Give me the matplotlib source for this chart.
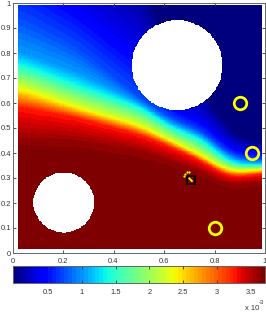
import numpy as np
import matplotlib
matplotlib.use("Agg")
import matplotlib.pyplot as plt

plt.rcParams['font.family'] = ['Liberation Sans', 'DejaVu Sans']

# ---- data ----
# columns (x) where the level-crossing heights were read
col_x = [0.02, 0.25, 0.5, 0.62, 0.75, 0.83, 0.88, 0.98]
# normalised concentration levels (fraction of maximum)
levels = [0.0, 0.1, 0.2, 0.28, 0.37, 0.5, 0.62, 0.75, 0.875, 0.97, 1.0]
# height y at which each level is crossed, per column
level_y = {
    0.0:   [1.40, 1.20, 1.15, 0.80, 0.65, 0.53, 0.47, 0.44],
    0.1:   [1.15, 1.00, 0.80, 0.58, 0.53, 0.45, 0.41, 0.395],
    0.2:   [0.94, 0.82, 0.62, 0.54, 0.484, 0.415, 0.38, 0.372],
    0.28:  [0.80, 0.72, 0.60, 0.52, 0.468, 0.40, 0.366, 0.36],
    0.37:  [0.76, 0.672, 0.584, 0.504, 0.452, 0.38, 0.352, 0.35],
    0.5:   [0.71, 0.628, 0.548, 0.478, 0.418, 0.358, 0.338, 0.342],
    0.62:  [0.664, 0.584, 0.512, 0.452, 0.39, 0.34, 0.325, 0.333],
    0.75:  [0.624, 0.562, 0.492, 0.438, 0.376, 0.326, 0.312, 0.324],
    0.875: [0.584, 0.54, 0.472, 0.424, 0.364, 0.314, 0.30, 0.314],
    0.97:  [0.46, 0.45, 0.41, 0.37, 0.325, 0.28, 0.27, 0.285],
    1.0:   [0.40, 0.39, 0.35, 0.32, 0.28, 0.24, 0.23, 0.245],
}
c_max = 3.71e-3
c_min_bar = -0.025e-3
# white obstacles (centre x, centre y, radius)
holes_x = [0.2, 0.65]
holes_y = [0.2, 0.75]
holes_r = [0.12, 0.18]
# yellow ring markers
ring_x = [0.9, 0.95, 0.8]
ring_y = [0.6, 0.4, 0.1]
# black square target
sq_x, sq_y = [0.707], [0.292]
dot_x = [0.682, 0.679, 0.69, 0.70]
dot_y = [0.317, 0.308, 0.324, 0.324]
seg_x = [0.698, 0.713]
seg_y = [0.301, 0.285]
xticks = [0, 0.2, 0.4, 0.6, 0.8, 1]
yticks = [0, 0.1, 0.2, 0.3, 0.4, 0.5, 0.6, 0.7, 0.8, 0.9, 1]
cticks = [0.5e-3, 1e-3, 1.5e-3, 2e-3, 2.5e-3, 3e-3, 3.5e-3]
cticklabels = ['0.5', '1', '1.5', '2', '2.5', '3', '3.5']

# ---- build field ----
x0, x1, y0, y1 = 0.02, 0.985, 0.015, 0.99
nx, ny = 300, 300
gx = np.linspace(x0, x1, nx)
gy = np.linspace(y0, y1, ny)
# level curves on the fine x grid, smoothed along x
sig = 10.0
k = np.arange(-30, 31)
kern = np.exp(-0.5 * (k / sig) ** 2)
kern /= kern.sum()
curves = []
for l in levels:
    c = np.interp(gx, col_x, level_y[l])
    cp = np.concatenate([np.full(30, c[0]), c, np.full(30, c[-1])])
    curves.append(np.convolve(cp, kern, mode='valid'))
curves = np.array(curves)
vals = np.array(levels)
field = np.zeros((ny, nx))
for i in range(nx):
    ys = curves[:, i]
    order = np.argsort(ys)
    field[:, i] = np.interp(gy, ys[order], vals[order])
field = field * c_max
XX, YY = np.meshgrid(gx, gy)
mask = np.zeros_like(field, dtype=bool)
for hx, hy, hr in zip(holes_x, holes_y, holes_r):
    mask |= (XX - hx) ** 2 + (YY - hy) ** 2 < hr ** 2
field = np.ma.array(field, mask=mask)

fig = plt.figure(figsize=(2.66, 3.12), dpi=100)
ax = fig.add_axes([12.5 / 266, 59 / 312, 252.5 / 266, 250 / 312])
cmap = plt.get_cmap('jet', 64)
im = ax.imshow(field, origin='lower', extent=[x0, x1, y0, y1], cmap=cmap,
               vmin=c_min_bar, vmax=c_max, interpolation='nearest', aspect='auto')
ax.set_xlim(0, 1)
ax.set_ylim(0, 1)

ax.plot(ring_x, ring_y, 'o', ms=9, mfc='none', mec='#ffff00', mew=2)
ax.plot(seg_x, seg_y, '-', color='#ffff00', lw=1.3, solid_capstyle='butt')
ax.plot(sq_x, sq_y, 's', ms=6, mfc='none', mec='black', mew=1.2)
ax.plot(dot_x, dot_y, 'o', ms=1.6, color='#ffff00', mec='none')

ax.set_xticks(xticks)
ax.set_xticklabels(['0', '0.2', '0.4', '0.6', '0.8', '1'])
ax.set_yticks(yticks)
ax.set_yticklabels(['0', '0.1', '0.2', '0.3', '0.4', '0.5', '0.6', '0.7', '0.8', '0.9', '1'])
ax.tick_params(direction='in', length=2.5, width=0.6, labelsize=5.4, colors='#333333',
               top=True, right=True, pad=1.2)
ax.tick_params(axis='x', pad=3.5)
for s in ax.spines.values():
    s.set_color('#666666')
    s.set_linewidth(0.7)

cax = fig.add_axes([12.7 / 266, 29 / 312, 252.3 / 266, 17 / 312])
cb = fig.colorbar(im, cax=cax, orientation='horizontal', ticks=cticks)
cb.set_ticklabels(cticklabels)
cax.tick_params(direction='in', length=2, width=0.6, labelsize=5.4, colors='#333333',
                top=True, bottom=True, pad=4)
cb.outline.set_edgecolor('#666666')
cb.outline.set_linewidth(0.7)
fig.text(245 / 266, 1 - 308 / 312, 'x 10', fontsize=5.4, color='#333333', va='center', ha='left')
fig.text(258.5 / 266, 1 - 303 / 312, '-3', fontsize=4.2, color='#333333', va='center', ha='left')

fig.savefig('out.png', dpi=100)
